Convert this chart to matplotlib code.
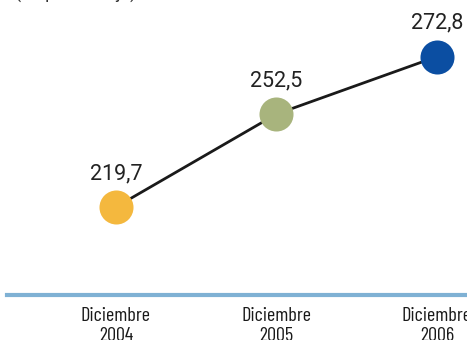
import matplotlib
matplotlib.use("Agg")
import matplotlib.pyplot as plt

fechas = ["Diciembre\n2004", "Diciembre\n2005", "Diciembre\n2006"]
valores = [219.7, 252.5, 272.8]
colores = ["#F4B83E", "#A8B47D", "#0B4EA2"]
etiquetas = ["219,7", "252,5", "272,8"]

fig = plt.figure(figsize=(4.67, 3.4), dpi=100)
ax = fig.add_axes([0, 0, 1, 1])
ax.set_xlim(-0.7227, 2.187)
ax.set_ylim(172.7, 292.8)
ax.axis("off")

x = list(range(len(valores)))
ax.plot(x, valores, color="#1a1a1a", lw=2, zorder=1)
for xi, v, c, t in zip(x, valores, colores, etiquetas):
    ax.plot(xi, v, "o", ms=24.5, color=c, mec="none", zorder=2)
    ax.annotate(t, (xi, v), xytext=(0, 20), textcoords="offset points",
                ha="center", va="baseline", fontsize=15.5, color="#222222",
                family="Roboto")

# línea base
ax.axhline(188.6, xmin=7 / 467, xmax=1, color="#7FB1D4", lw=3)

# la segunda línea queda cortada por el borde inferior
for xi, f in zip(x, fechas):
    ax.text(xi, -1 / 340, f, transform=ax.get_xaxis_transform(), ha="center",
            va="baseline", fontsize=14.5, color="#1a1a1a", linespacing=1.12,
            family="Barlow Condensed")

ax.text(15 / 467, 1 + 1 / 340, "(en porcentaje)", transform=ax.transAxes,
        ha="left", va="baseline", fontsize=13, color="#333333", family="Roboto")

fig.savefig("out.png", dpi=100)
